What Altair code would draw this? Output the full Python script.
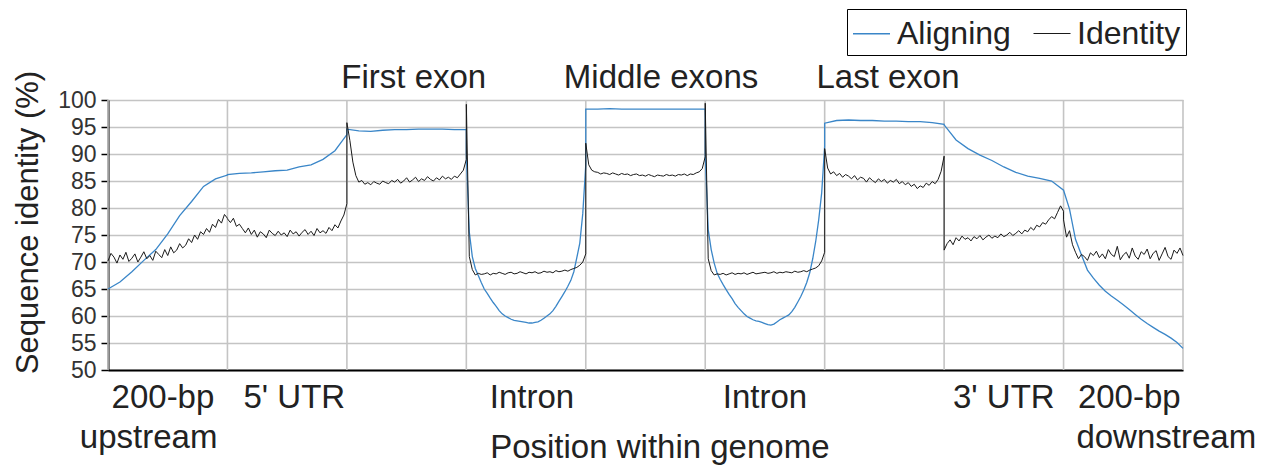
import altair as alt
import pandas as pd

FONT = "Liberation Sans"
BLUE = "#3a86c8"
BLACK = "#1a1a1a"

# ---- Aligning series, one list per gene region (evenly spaced within region) ----
aligning_upstream = [65.0, 66.3, 68.2, 70.3, 72.3, 75.2, 78.6, 81.2, 84.0, 85.4, 86.1]
aligning_utr5 = [86.2, 86.4, 86.5, 86.7, 86.9, 87.0, 87.6, 88.0, 89.0, 90.6, 93.6]
aligning_first_exon = [94.6, 94.3, 94.2, 94.4, 94.5, 94.5, 94.6, 94.6, 94.6, 94.5, 94.5]
aligning_intron1 = [90.0, 75.5, 71.0, 68.8, 67.5, 66.2, 65.0, 64.2, 63.3, 62.5,
                    61.8, 61.0, 60.4, 60.0, 59.7, 59.4, 59.2, 59.1, 59.0, 58.9,
                    58.8, 58.7, 58.7, 58.8, 58.9, 59.2, 59.6, 60.0, 60.4, 61.0,
                    61.8, 62.7, 63.6, 64.5, 65.5, 66.6, 68.2, 70.8, 73.5, 79.0,
                    88.0]
aligning_middle_exons = [98.3, 98.3, 98.4, 98.3, 98.3, 98.3, 98.3, 98.3, 98.3, 98.3, 98.3]
aligning_intron2 = [90.0, 76.0, 72.3, 69.8, 67.9, 66.8, 65.8, 64.9, 64.0, 63.2,
                    62.3, 61.6, 61.0, 60.4, 59.9, 59.6, 59.3, 59.1, 59.0, 58.8,
                    58.6, 58.4, 58.3, 58.5, 58.9, 59.3, 59.6, 59.9, 60.2, 60.8,
                    61.6, 62.6, 63.6, 64.8, 66.2, 68.0, 70.6, 73.8, 77.8, 82.8,
                    91.4]
aligning_last_exon = [95.7, 96.2, 96.3, 96.2, 96.2, 96.1, 96.1, 96.0, 96.0, 95.8, 95.5]
aligning_utr3 = [95.4, 92.6, 91.0, 89.8, 88.8, 87.6, 86.6, 85.9, 85.5, 85.0, 83.3]
aligning_downstream = [83.3, 79.8, 74.2, 71.3, 68.5, 67.0, 65.7, 64.6, 63.7, 62.9,
                       62.1, 61.2, 60.3, 59.4, 58.6, 57.9, 57.2, 56.6, 55.9, 55.1,
                       54.0]

# ---- Identity series, one list per gene region ----
identity_upstream = [70.2, 71.6, 70.9, 69.8, 71.3, 70.5, 71.8, 70.1, 70.7, 71.5,
                     70.0, 70.9, 71.9, 70.6, 71.2, 70.3, 72.0, 71.4, 70.8, 72.3,
                     71.2, 72.8, 71.7, 72.2, 73.4, 72.6, 73.1, 74.3, 73.6, 75.0,
                     74.2, 75.6, 75.1, 76.2, 75.5, 77.0, 76.4, 77.9, 77.2, 78.8,
                     78.1]
identity_utr5 = [78.0, 77.3, 78.1, 76.6, 77.0, 76.2, 75.4, 76.3, 75.1, 75.9,
                 74.6, 75.6, 75.2, 74.5, 75.9, 75.3, 74.9, 75.7, 75.0, 75.4,
                 74.7, 75.9, 75.2, 75.6, 74.8, 75.5, 76.0, 75.1, 75.7, 74.9,
                 76.2, 75.4, 75.8, 75.3, 76.4, 75.8, 76.9, 76.3, 77.6, 78.7,
                 80.8]
identity_first_exon = [95.8, 92.5, 88.5, 86.0, 84.8, 85.1, 84.4, 84.7, 84.3, 84.9,
                       84.6, 84.4, 85.0, 84.7, 84.5, 85.1, 84.8, 85.3, 84.6, 85.0,
                       85.6, 84.8, 85.2, 85.7, 84.9, 85.4, 85.1, 85.8, 85.3, 85.0,
                       85.6, 85.2, 85.9, 85.4, 85.7, 85.3, 85.9, 85.6, 86.3, 87.0,
                       89.0]
identity_intron1 = [99.2, 71.0, 68.6, 67.6, 67.9, 67.7, 67.8, 68.0, 67.6, 67.9,
                    67.8, 68.1, 67.9, 67.7, 68.0, 68.1, 67.8, 67.9, 68.2, 68.0,
                    67.8, 68.1, 68.0, 68.2, 67.9, 68.0, 68.3, 68.1, 68.2, 68.0,
                    68.4, 68.2, 68.3, 68.5, 68.3, 68.6, 68.8, 69.0, 69.4, 70.0,
                    71.5]
identity_middle_exons = [92.0, 88.0, 87.0, 86.7, 86.6, 86.3, 86.5, 86.4, 86.2, 86.5,
                         86.3, 86.1, 86.4, 86.2, 86.3, 86.0, 86.2, 86.3, 86.0, 86.1,
                         85.9, 86.2, 86.0, 85.8, 86.1, 86.0, 85.9, 86.2, 86.0, 86.1,
                         85.9, 86.2, 86.1, 86.3, 86.0, 86.3, 86.2, 86.5, 86.7, 87.3,
                         89.5]
identity_intron2 = [99.4, 70.6, 68.4, 67.6, 67.8, 67.7, 67.9, 67.6, 67.8, 68.0,
                    67.7, 67.9, 67.8, 68.0, 67.7, 67.9, 68.1, 67.8, 67.9, 68.0,
                    68.1, 67.9, 68.0, 68.2, 67.9, 68.1, 68.0, 68.2, 68.1, 68.0,
                    68.3, 68.1, 68.2, 68.4, 68.2, 68.5, 68.7, 68.9, 69.3, 70.2,
                    71.8]
identity_last_exon = [91.0, 87.4, 86.3, 86.7, 86.0, 86.4, 85.7, 86.2, 85.9, 85.4,
                      86.0, 85.2, 85.7, 85.5, 84.8, 85.6, 85.1, 84.7, 85.4, 84.9,
                      85.3, 84.6, 85.1, 84.8, 85.3, 84.5, 84.9, 84.3, 84.7, 84.0,
                      84.4, 83.6, 84.1, 83.8, 84.6, 84.2, 84.9, 84.5, 85.3, 86.8,
                      89.6]
identity_utr3 = [72.2, 73.4, 74.1, 73.2, 74.5, 73.9, 74.8, 74.2, 74.5, 73.9,
                 74.7, 74.3, 74.9, 74.1, 74.6, 75.0, 74.4, 74.8, 74.5, 75.2,
                 74.7, 75.0, 75.5, 74.9, 75.3, 75.8, 75.2, 75.9, 75.6, 76.4,
                 75.9, 76.8, 76.5, 77.3, 77.0, 77.8, 78.4, 78.0, 79.2, 80.4,
                 79.4]
identity_downstream = [77.8, 74.6, 75.8, 73.2, 71.8, 70.6, 71.4, 71.0, 70.3, 71.7,
                       71.2, 72.0, 70.8, 71.5, 70.6, 72.3, 71.4, 71.0, 72.9, 70.4,
                       71.3, 71.8, 70.7, 72.6, 71.1, 70.5, 71.9, 71.4, 72.4, 70.6,
                       71.6, 72.1, 70.3, 71.5, 72.7, 71.0, 70.5, 72.2, 71.6, 72.6,
                       71.2]

aligning_segments = [aligning_upstream, aligning_utr5, aligning_first_exon,
                     aligning_intron1, aligning_middle_exons, aligning_intron2,
                     aligning_last_exon, aligning_utr3, aligning_downstream]
identity_segments = [identity_upstream, identity_utr5, identity_first_exon,
                     identity_intron1, identity_middle_exons, identity_intron2,
                     identity_last_exon, identity_utr3, identity_downstream]

# ---- Annotation texts ----
top_labels = ["First exon", "Middle exons", "Last exon"]
top_label_pos = [2.56, 4.63, 6.53]
bottom_labels = ["200-bp", "upstream", "5' UTR", "Intron", "Intron", "3' UTR",
                 "200-bp", "downstream"]
bottom_label_pos = [0.46, 0.34, 1.56, 3.55, 5.50, 7.50, 8.55, 8.86]
bottom_label_row = [1, 2, 1, 1, 1, 1, 1, 2]
x_title = "Position within genome"
x_title_pos = 4.62
boundaries = list(range(0, 10))
y_ticks = [50, 55, 60, 65, 70, 75, 80, 85, 90, 95, 100]

rows = []
for name, segs in (("Aligning", aligning_segments), ("Identity", identity_segments)):
    k = 0
    for s, vals in enumerate(segs):
        n = len(vals)
        for i, v in enumerate(vals):
            rows.append({"series": name, "pos": s + i / (n - 1), "value": v, "k": k})
            k += 1
df = pd.DataFrame(rows)

row_value = {1: 42.9, 2: 35.6}
top_df = pd.DataFrame({"label": top_labels, "pos": top_label_pos,
                       "y": [102.2] * len(top_labels)})
bot_df = pd.DataFrame({"label": bottom_labels, "pos": bottom_label_pos,
                       "y": [row_value[r] for r in bottom_label_row]})
xt_df = pd.DataFrame({"label": [x_title], "pos": [x_title_pos], "y": [33.7]})
vb_df = pd.DataFrame({"pos": boundaries})

xscale = alt.Scale(domain=[0, 9], nice=False, zero=False)
yscale = alt.Scale(domain=[50, 100], nice=False, zero=False)

XAXIS = alt.Axis(title=None, labels=False, ticks=False, grid=False,
                 domainColor="black", domainWidth=2)
YAXIS = alt.Axis(title="Sequence identity (%)", values=y_ticks,
                 labelOverlap=False,
                 grid=True, gridColor="#c4c4c4", gridWidth=1.6,
                 domainColor="black", domainWidth=2,
                 tickColor="black", tickSize=7, tickWidth=1.5,
                 labelFontSize=23, labelFont=FONT, labelColor="#333333",
                 labelPadding=5,
                 titleFontSize=31, titleFont=FONT, titleFontWeight="normal",
                 titleColor="#222222", titleX=-80, titleY=122,
                 titleAngle=270, titleAlign="center", titleBaseline="middle")

vlines = alt.Chart(vb_df).mark_rule(color="#c4c4c4", strokeWidth=1.6).encode(
    x=alt.X("pos:Q", scale=xscale, axis=XAXIS)
)

lines = alt.Chart(df).mark_line().encode(
    x=alt.X("pos:Q", scale=xscale, axis=XAXIS),
    y=alt.Y("value:Q", scale=yscale, axis=YAXIS),
    color=alt.Color("series:N",
                    scale=alt.Scale(domain=["Aligning", "Identity"], range=[BLUE, BLACK]),
                    legend=alt.Legend(orient="none", legendX=739, legendY=-91,
                                      direction="horizontal", title=None,
                                      strokeColor="black", fillColor="white",
                                      padding=5, symbolType="stroke",
                                      symbolSize=1369, symbolStrokeWidth=1.5,
                                      labelFontSize=32, labelFont=FONT,
                                      labelColor="#222222", labelLimit=400,
                                      labelOffset=6, columnPadding=20)),
    strokeWidth=alt.StrokeWidth("series:N",
                                scale=alt.Scale(domain=["Aligning", "Identity"], range=[1.3, 1.0]),
                                legend=None),
    detail="series:N",
    order=alt.Order("k:Q"),
)

def text_layer(d):
    return alt.Chart(d).mark_text(fontSize=33, font=FONT, color="#222222",
                                  align="center", baseline="alphabetic").encode(
        x=alt.X("pos:Q", scale=xscale, axis=XAXIS),
        y=alt.Y("y:Q", scale=yscale, axis=YAXIS),
        text="label:N",
    )

chart = alt.layer(vlines, lines, text_layer(top_df), text_layer(bot_df),
                  text_layer(xt_df)).properties(
    width=1075, height=270,
    autosize=alt.AutoSizeParams(type="none"),
    padding={"left": 100, "top": 92, "right": 75, "bottom": 98},
).configure_view(stroke=None)

chart.save("out.html", embed_options={"renderer": "svg", "actions": False})
